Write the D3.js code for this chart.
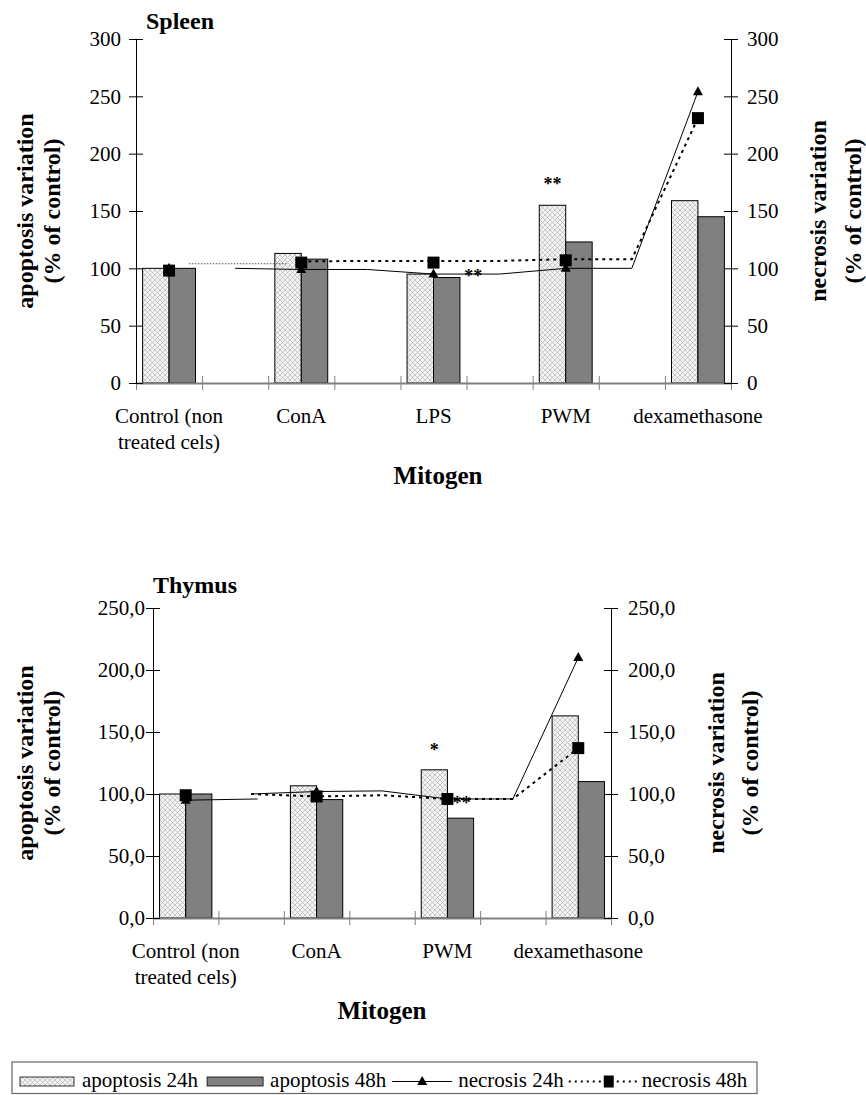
<!DOCTYPE html>
<html>
<head>
<meta charset="utf-8">
<script src="https://cdn.jsdelivr.net/npm/d3@7"></script>
<style>
  body { margin: 0; background: #fff; }
  svg { display: block; }
  text { font-family: "Liberation Serif", "Times New Roman", serif; fill: #000; }
</style>
</head>
<body>
<svg id="chart" width="866" height="1095"></svg>
<script>
// ---------- Spleen ----------
const spleenCategories = [["Control (non", "treated cels)"], ["ConA"], ["LPS"], ["PWM"], ["dexamethasone"]];
const spleenApoptosis24 = [100, 113, 95, 155, 159];
const spleenApoptosis48 = [100, 108, 92, 123, 145];
const spleenNecrosis24 = [100, 99, 95, 100, 254];
const spleenNecrosis48 = [98, 105, 105, 107, 231];
// line paths as [category slot, value] pairs (slots include the gaps between groups)
const spleenNecrosis24Path = [[[1, 100], [2, 99], [3, 99], [4, 95], [5, 95], [6, 100], [7, 100], [8, 254]]];
const spleenNecrosis48Path = [[[2, 106], [3, 106.5], [4, 106.5], [5, 106.5], [6, 108], [7, 108], [8, 231]]];
const spleenNecrosis48Link = [[[0.3, 104], [1.8, 104]]];
const spleenTicks = [0, 50, 100, 150, 200, 250, 300];
const spleenStars = [{ slot: 5.8, value: 176, label: "**" }, { slot: 4.6, value: 96, label: "**" }];

// ---------- Thymus ----------
const thymusCategories = [["Control (non", "treated cels)"], ["ConA"], ["PWM"], ["dexamethasone"]];
const thymusApoptosis24 = [100, 106.6, 119.5, 163];
const thymusApoptosis48 = [100, 95.5, 80.5, 110];
const thymusNecrosis24 = [95, 102, 96, 210];
const thymusNecrosis48 = [99, 98, 96, 137];
const thymusNecrosis24Path = [
  [[0, 95], [1.1, 96]],
  [[1, 100], [2, 102], [3, 102.5], [4, 96], [5, 96], [6, 210]]
];
const thymusNecrosis48Path = [[[1, 100], [2, 98], [3, 99], [4, 96], [5, 96], [6, 137]]];
const thymusNecrosis48Link = [];
const thymusTicks = [0, 50, 100, 150, 200, 250];
const thymusStars = [{ slot: 3.8, value: 138, label: "*" }, { slot: 4.22, value: 95, label: "**" }];

const legendLabels = ["apoptosis 24h", "apoptosis 48h", "necrosis 24h", "necrosis 48h"];

const svg = d3.select("#chart");
const commaFormat = d3.formatLocale({ decimal: ",", thousands: ".", grouping: [3], currency: ["", ""] }).format(".1f");

// crosshatch fill for the 24h apoptosis bars
const defs = svg.append("defs");
const pat = defs.append("pattern").attr("id", "hatch").attr("patternUnits", "userSpaceOnUse")
  .attr("width", 5).attr("height", 5);
pat.append("rect").attr("width", 5).attr("height", 5).attr("fill", "#f3f3f3");
pat.append("path").attr("d", "M0,0 L5,5 M5,0 L0,5").attr("stroke", "#b4b4b4").attr("stroke-width", 0.7);

const TRI = "M0,-5.5 L5,3.5 L-5,3.5 Z";
const SQ = "M-6,-6 H6 V6 H-6 Z";

function drawPanel(c) {
  const g = svg.append("g");
  const x = d3.scaleLinear().domain([0, c.nSlots]).range([c.left, c.right]);
  const y = d3.scaleLinear().domain([0, c.yMax]).range([c.bottom, c.top]);
  const slotW = x(1) - x(0);
  const barW = slotW * 0.4;
  const center = i => x(2 * i + 0.5);

  // bars
  g.selectAll(".b24").data(c.apo24).join("rect")
    .attr("x", (d, i) => center(i) - barW).attr("y", d => y(d))
    .attr("width", barW).attr("height", d => y(0) - y(d))
    .attr("fill", "url(#hatch)").attr("stroke", "#000").attr("stroke-width", 1);
  g.selectAll(".b48").data(c.apo48).join("rect")
    .attr("x", (d, i) => center(i)).attr("y", d => y(d))
    .attr("width", barW).attr("height", d => y(0) - y(d))
    .attr("fill", "#808080").attr("stroke", "#000").attr("stroke-width", 1);

  // x axis: grey baseline with ticks between every slot
  const xAxis = g.append("g").attr("transform", `translate(0,${c.bottom})`)
    .call(d3.axisBottom(x).tickValues(d3.range(0, c.nSlots + 1)).tickFormat("").tickSizeOuter(0));
  xAxis.select(".domain").attr("stroke", "#808080").attr("stroke-width", 2);
  xAxis.selectAll(".tick line").attr("y1", -7).attr("y2", 7).attr("stroke", "#808080");

  // y axes
  const yl = g.append("g").attr("transform", `translate(${c.left},0)`)
    .call(d3.axisLeft(y).tickValues(c.ticks).tickFormat(c.fmt).tickSizeOuter(0).tickSize(7).tickPadding(c.leftGap));
  yl.selectAll(".tick line").attr("x1", 7).attr("x2", -7);
  const yr = g.append("g").attr("transform", `translate(${c.right},0)`)
    .call(d3.axisRight(y).tickValues(c.ticks).tickFormat(c.fmt).tickSizeOuter(0).tickSize(7).tickPadding(c.rightGap));
  yr.selectAll(".tick line").attr("x1", -7).attr("x2", 7);
  [yl, yr].forEach(a => {
    a.selectAll("text").attr("font-size", 21).attr("font-family", "Liberation Serif, serif");
    a.select(".domain").attr("stroke", "#000");
  });

  // necrosis lines
  const line = d3.line().x(d => x(d[0] + 0.5)).y(d => y(d[1]));
  g.selectAll(".l24").data(c.nec24Path).join("path")
    .attr("d", line).attr("fill", "none").attr("stroke", "#000").attr("stroke-width", 1);
  g.selectAll(".l48link").data(c.nec48Link).join("path")
    .attr("d", line).attr("fill", "none").attr("stroke", "#555").attr("stroke-width", 1)
    .attr("stroke-dasharray", "1.5,1.5");
  g.selectAll(".l48").data(c.nec48Path).join("path")
    .attr("d", line).attr("fill", "none").attr("stroke", "#000").attr("stroke-width", 2)
    .attr("stroke-dasharray", "3,4");

  // markers
  g.selectAll(".m24").data(c.nec24).join("path")
    .attr("d", TRI).attr("transform", (d, i) => `translate(${center(i)},${y(d)})`).attr("fill", "#000");
  g.selectAll(".m48").data(c.nec48).join("path")
    .attr("d", SQ).attr("transform", (d, i) => `translate(${center(i)},${y(d)})`).attr("fill", "#000");

  // significance marks
  g.selectAll(".star").data(c.stars).join("text")
    .attr("x", d => x(d.slot + 0.5)).attr("y", d => y(d.value) + 9)
    .attr("text-anchor", "middle").attr("font-size", 18).attr("font-weight", "bold")
    .text(d => d.label);

  // category labels
  c.categories.forEach((lines, i) => {
    lines.forEach((t, k) => {
      g.append("text").attr("x", center(i)).attr("y", c.catBaseline + k * 26)
        .attr("text-anchor", "middle").attr("font-size", 21).text(t);
    });
  });

  // titles
  g.append("text").attr("x", c.titleX).attr("y", c.titleY)
    .attr("font-size", 24).attr("font-weight", "bold").text(c.title);
  g.append("text").attr("x", c.mitogenX).attr("y", c.mitogenY).attr("text-anchor", "middle")
    .attr("font-size", 25).attr("font-weight", "bold").text("Mitogen");

  const yMid = (c.top + c.bottom) / 2;
  const vTitle = (cx, t) => g.append("text")
    .attr("transform", `translate(${cx},${yMid}) rotate(-90)`)
    .attr("text-anchor", "middle").attr("dy", "0.35em")
    .attr("font-size", 24).attr("font-weight", "bold").text(t);
  vTitle(c.leftTitleX[0], "apoptosis variation");
  vTitle(c.leftTitleX[1], "(% of control)");
  vTitle(c.rightTitleX[0], "necrosis variation");
  vTitle(c.rightTitleX[1], "(% of control)");
}

drawPanel({
  left: 136, right: 731, top: 39, bottom: 383, yMax: 300, nSlots: 9,
  ticks: spleenTicks, fmt: d3.format("d"), leftGap: 8, rightGap: 9,
  categories: spleenCategories, apo24: spleenApoptosis24, apo48: spleenApoptosis48,
  nec24: spleenNecrosis24, nec48: spleenNecrosis48,
  nec24Path: spleenNecrosis24Path, nec48Path: spleenNecrosis48Path, nec48Link: spleenNecrosis48Link,
  stars: spleenStars, title: "Spleen", titleX: 146, titleY: 29,
  catBaseline: 423, mitogenX: 438, mitogenY: 484,
  leftTitleX: [25, 52], rightTitleX: [818, 853]
});

drawPanel({
  left: 153, right: 611, top: 608, bottom: 918, yMax: 250, nSlots: 7,
  ticks: thymusTicks, fmt: commaFormat, leftGap: 1, rightGap: 10,
  categories: thymusCategories, apo24: thymusApoptosis24, apo48: thymusApoptosis48,
  nec24: thymusNecrosis24, nec48: thymusNecrosis48,
  nec24Path: thymusNecrosis24Path, nec48Path: thymusNecrosis48Path, nec48Link: thymusNecrosis48Link,
  stars: thymusStars, title: "Thymus", titleX: 153, titleY: 593,
  catBaseline: 958, mitogenX: 382, mitogenY: 1019,
  leftTitleX: [25, 52], rightTitleX: [716, 750]
});

// ---------- legend ----------
const lg = svg.append("g");
lg.append("rect").attr("x", 12).attr("y", 1062).attr("width", 745).attr("height", 31.5)
  .attr("fill", "#fff").attr("stroke", "#666").attr("stroke-width", 1.2);
const ly = 1081.5;
let cx = 20;
function legendText(t) {
  const el = lg.append("text").attr("x", cx).attr("y", 1087).attr("font-size", 21).text(t);
  cx += el.node().getComputedTextLength();
}
// apoptosis 24h
lg.append("rect").attr("x", cx).attr("y", 1077).attr("width", 54).attr("height", 9)
  .attr("fill", "url(#hatch)").attr("stroke", "#000").attr("stroke-width", 0.8);
cx += 62; legendText(legendLabels[0]); cx += 9;
// apoptosis 48h
lg.append("rect").attr("x", cx).attr("y", 1077).attr("width", 56).attr("height", 9)
  .attr("fill", "#808080").attr("stroke", "#000").attr("stroke-width", 0.8);
cx += 63; legendText(legendLabels[1]); cx += 6;
// necrosis 24h
lg.append("line").attr("x1", cx).attr("x2", cx + 60).attr("y1", ly).attr("y2", ly)
  .attr("stroke", "#000").attr("stroke-width", 1);
lg.append("path").attr("d", TRI).attr("transform", `translate(${cx + 30},${ly})`).attr("fill", "#000");
cx += 66; legendText(legendLabels[2]); cx += 5;
// necrosis 48h
lg.append("line").attr("x1", cx).attr("x2", cx + 68).attr("y1", ly).attr("y2", ly)
  .attr("stroke", "#000").attr("stroke-width", 2).attr("stroke-dasharray", "2,4");
lg.append("path").attr("d", "M-5,-6 H5 V6 H-5 Z").attr("transform", `translate(${cx + 40},${ly})`).attr("fill", "#000");
cx += 73; legendText(legendLabels[3]);
</script>
</body>
</html>
